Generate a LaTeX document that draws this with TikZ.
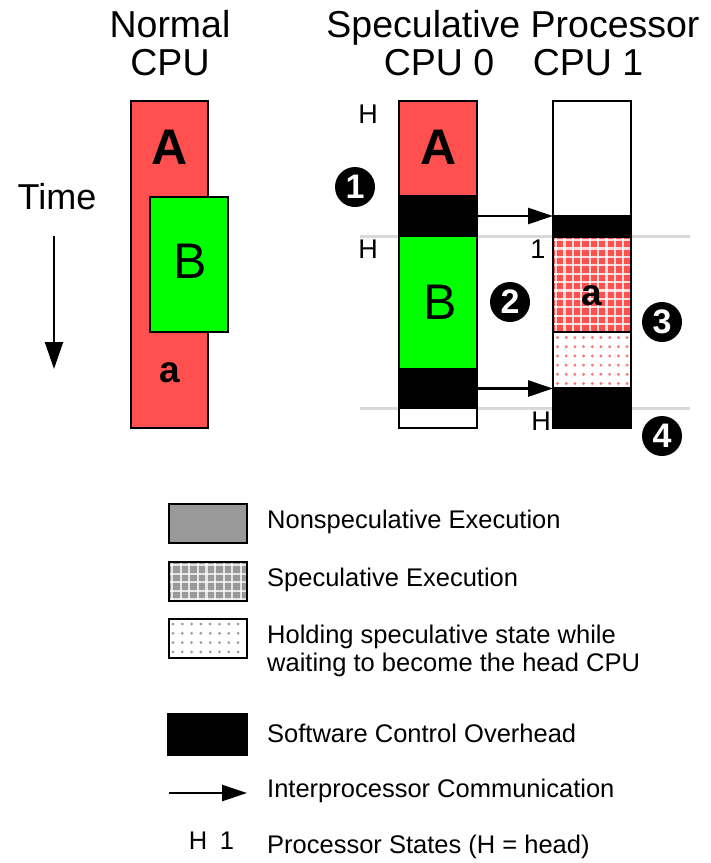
\documentclass[tikz,border=0pt]{standalone}
\usepackage{fontspec}
\setmainfont{Liberation Sans}
\usetikzlibrary{arrows.meta}
\definecolor{cpured}{HTML}{FF5050}
\definecolor{cpugreen}{HTML}{00FF00}
\definecolor{sepgray}{HTML}{D9D9D9}
\definecolor{nsgray}{HTML}{999999}
\newcommand\cellbox[6]{\node[bar,#6,minimum width={#4pt-#2pt},minimum height={#5pt-#3pt}] (#1) at (#2,#3) {};}
\tikzset{
  bar/.style={draw=black, line width=1.4pt, inner sep=0pt, outer sep=0pt, anchor=north west},
  title/.style={font=\fontsize{37.5}{40}\selectfont, anchor=base},
  bigbold/.style={font=\fontsize{50}{52}\selectfont\bfseries, inner sep=0pt},
  bigreg/.style={font=\fontsize{50}{52}\selectfont, inner sep=0pt},
  smallbold/.style={font=\fontsize{37}{40}\selectfont\bfseries, inner sep=0pt},
  state/.style={font=\fontsize{27}{29}\selectfont, inner sep=0pt},
  legtext/.style={font=\fontsize{25.5}{28}\selectfont, anchor=west, inner sep=0pt, align=left},
  numcirc/.style={circle, fill=black, minimum size=40pt, inner sep=0pt, text=white, font=\fontsize{34}{34}\selectfont\bfseries},
  sepline/.style={draw=sepgray, line width=3pt},
  comm/.style={line width=2.6pt, -{Triangle[length=25pt,width=16pt]}},
  timearrow/.style={line width=2pt, -{Triangle[length=27pt,width=18pt]}},
}
\begin{document}
\begin{tikzpicture}[x=1pt,y=-1pt]
\useasboundingbox (0,0) rectangle (711,863);

% ---------- Normal CPU ----------
\node[title] (tn1) at (170,37) {Normal};
\node[title] (tn2) at (170,75) {CPU};
\cellbox{nred}{131}{101}{208}{428}{fill=cpured}
\cellbox{ngreen}{150}{197}{228}{332}{fill=cpugreen}
\node[bigbold] (nA) at (170,147) {A};
\node[bigreg] (nB) at (190,261) {B};
\node[smallbold] (na) at (170,373) {a};
\node[title, font=\fontsize{36}{40}\selectfont] (time) at (57,209) {Time};
\coordinate (ts) at (54,236);
\coordinate (te) at (54,369);
\draw[timearrow] (ts) -- (te);

% ---------- separators ----------
\coordinate (s1a) at (360,236); \coordinate (s1b) at (690,236);
\coordinate (s2a) at (360,408); \coordinate (s2b) at (690,408);
\draw[sepline] (s1a) -- (s1b);
\draw[sepline] (s2a) -- (s2b);

% ---------- Speculative processor ----------
\node[title] (tsp) at (513,37) {Speculative Processor};
\node[title] (tc0) at (439,75) {CPU 0};
\node[title] (tc1) at (588,75) {CPU 1};

% CPU 0
\cellbox{c0A}{399}{101}{477}{196}{fill=cpured}
\cellbox{c0k1}{399}{196}{477}{236}{fill=black}
\cellbox{c0B}{399}{236}{477}{369}{fill=cpugreen}
\cellbox{c0k2}{399}{369}{477}{408}{fill=black}
\cellbox{c0w}{399}{408}{477}{428}{fill=white}
\node[bigbold] (c0Alab) at (439,147) {A};
\node[bigreg] (c0Blab) at (440,302) {B};

% CPU 1
\cellbox{c1w}{553}{101}{631}{216}{fill=white}
\cellbox{c1k1}{553}{216}{631}{237}{fill=black}
\cellbox{c1s}{553}{237}{631}{332}{fill=cpured}
\cellbox{c1d}{553}{332}{631}{388}{fill=white}
\cellbox{c1k2}{553}{388}{631}{428}{fill=black}

% speculative grid pattern
\begin{scope}
  \clip (c1s.north west) rectangle (c1s.south east);
  \foreach \i in {0,...,10} {
    \draw[white, line width=2.2pt, opacity=0.8] (556+8.4*\i,230) -- (556+8.4*\i,340);
  }
  \foreach \j in {0,...,12} {
    \draw[white, line width=2.2pt, opacity=0.8] (545,240+8.4*\j) -- (640,240+8.4*\j);
  }
\end{scope}
\draw[line width=1.4pt] (c1s.north west) rectangle (c1s.south east);
% waiting dots pattern
\begin{scope}
  \clip (c1d.north west) rectangle (c1d.south east);
  \foreach \i in {0,...,8} {
    \foreach \j in {0,...,5} {
      \fill[cpured!80] (557.5+8.7*\i,337.5+9.2*\j) circle (1.6);
    }
  }
\end{scope}
\draw[line width=1.4pt] (c1d.north west) rectangle (c1d.south east);
\node[smallbold] (c1alab) at (592,296) {a};

% state labels
\node[state] (h1) at (368,114) {H};
\node[state] (h2) at (368,249) {H};
\node[state] (one) at (538,249) {1};
\node[state] (h3) at (541,421) {H};

% communication arrows
\draw[comm] (c0k1.east) -- (c0k1.east -| c1w.west);
\draw[comm] (c0k2.east) -- (c0k2.east -| c1w.west);

% numbered circles
\node[numcirc] (n1) at (355,187) {1};
\node[numcirc] (n2) at (510,302) {2};
\node[numcirc] (n3) at (662,322) {3};
\node[numcirc] (n4) at (662,436) {4};

% ---------- Legend ----------
\cellbox{lg1}{169}{504}{247}{543}{fill=nsgray}
\cellbox{lg2}{169}{562}{247}{601}{fill=nsgray}
\begin{scope}
  \clip (lg2.north west) rectangle (lg2.south east);
  \foreach \i in {0,...,10} {
    \draw[white, line width=2.2pt, opacity=0.75] (172+8.6*\i,555) -- (172+8.6*\i,610);
  }
  \foreach \j in {0,...,5} {
    \draw[white, line width=2.2pt, opacity=0.75] (160,565+8.6*\j) -- (255,565+8.6*\j);
  }
\end{scope}
\draw[line width=1.4pt] (lg2.north west) rectangle (lg2.south east);
\cellbox{lg3}{169}{619}{247}{658}{fill=white}
\begin{scope}
  \clip (lg3.north west) rectangle (lg3.south east);
  \foreach \i in {0,...,8} {
    \foreach \j in {0,...,3} {
      \fill[nsgray] (173+9.3*\i,624+9.3*\j) circle (1.5);
    }
  }
\end{scope}
\draw[line width=1.4pt] (lg3.north west) rectangle (lg3.south east);
\cellbox{lg4}{168}{714}{247}{755}{fill=black}
\coordinate (la1) at (169,793);
\coordinate (la2) at (247,793);
\draw[comm] (la1) -- (la2);
\node[state, font=\fontsize{25.5}{28}\selectfont] (lh) at (198,841) {H};
\node[state, font=\fontsize{25.5}{28}\selectfont] (l1) at (227,841) {1};

\node[legtext] (t1) at (267,522) {Nonspeculative Execution};
\node[legtext] (t2) at (267,580) {Speculative Execution};
\node[legtext, font=\fontsize{25.5}{28.5}\selectfont] (t3) at (267,651) {Holding speculative state while\\waiting to become the head CPU};
\node[legtext] (t4) at (267,733) {Software Control Overhead};
\node[legtext] (t5) at (267,791) {Interprocessor Communication};
\node[legtext] (t6) at (267,847) {Processor States (H = head)};
\end{tikzpicture}
\end{document}
